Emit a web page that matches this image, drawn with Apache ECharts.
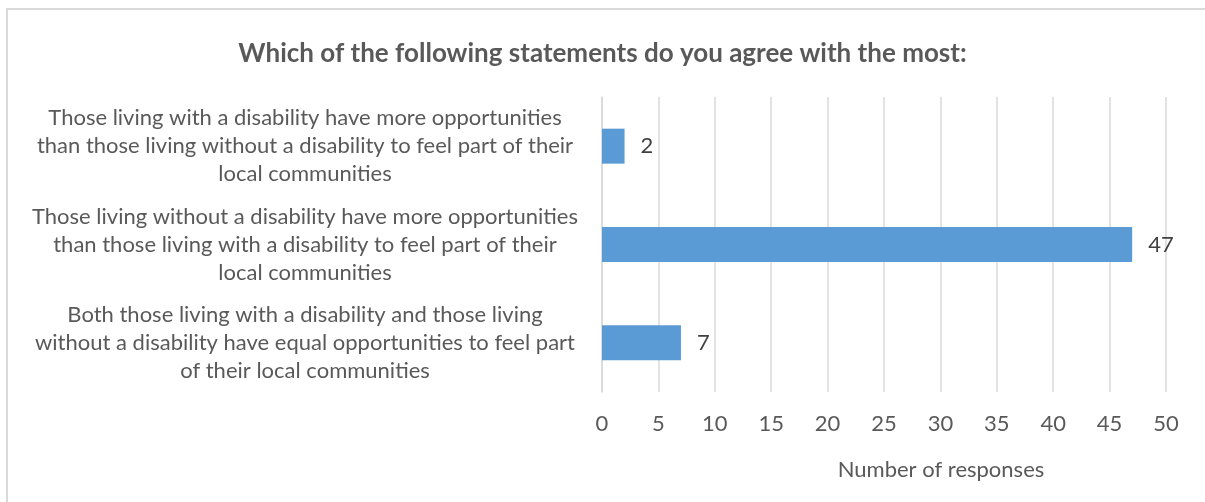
<!DOCTYPE html>
<html>
<head>
<meta charset="utf-8">
<script src="https://cdn.jsdelivr.net/npm/echarts@6/dist/echarts.min.js"></script>
<style>
  html, body { margin: 0; padding: 0; background: #fff; }
  #chart { width: 1205px; height: 502px; }
</style>
</head>
<body>
<div id="chart"></div>
<script>
// Survey answers, listed top to bottom as shown
const categories = [
  'Those living with a disability have more opportunities\nthan those living without a disability to feel part of their\nlocal communities',
  'Those living without a disability have more opportunities\nthan those living with a disability to feel part of their\nlocal communities',
  'Both those living with a disability and those living\nwithout a disability have equal opportunities to feel part\nof their local communities'
];
const responses = [2, 47, 7];
const xTicks = [0, 5, 10, 15, 20, 25, 30, 35, 40, 45, 50];

const titleText = 'Which of the following statements do you agree with the most:';
const axisTitle = 'Number of responses';

const FONT = 'Lato, "Open Sans", sans-serif';
const TEXT = '#595959';
const GRID = '#d9d9d9';

const chart = echarts.init(document.getElementById('chart'), null, { renderer: 'canvas' });

chart.setOption({
  animation: false,
  backgroundColor: '#fff',
  title: {
    text: titleText,
    left: 'center',
    top: 36,
    textStyle: { fontFamily: FONT, fontSize: 26, fontWeight: 'bold', color: TEXT }
  },
  grid: { left: 602, right: 39, top: 97, bottom: 110, containLabel: false },
  xAxis: {
    type: 'value',
    min: xTicks[0],
    max: xTicks[xTicks.length - 1],
    interval: 5,
    axisLine: { show: false },
    axisTick: { show: false },
    splitLine: { show: true, lineStyle: { color: GRID, width: 1.5 } },
    axisLabel: { fontFamily: FONT, fontSize: 22, color: TEXT, margin: 21 }
  },
  yAxis: {
    type: 'category',
    inverse: true,
    data: categories,
    axisLine: { show: true, lineStyle: { color: GRID, width: 1.5 } },
    axisTick: { show: false },
    axisLabel: {
      fontFamily: FONT,
      fontSize: 22,
      color: TEXT,
      lineHeight: 28,
      align: 'center',
      margin: 297
    }
  },
  graphic: [
    {
      type: 'rect',
      shape: { x: 7, y: 9, width: 1210, height: 510 },
      style: { fill: 'none', stroke: GRID, lineWidth: 2 },
      silent: true
    },
    {
      type: 'text',
      x: 941,
      y: 470,
      style: {
        text: axisTitle, fontFamily: FONT, fontSize: 22, fill: TEXT,
        align: 'center', verticalAlign: 'middle'
      }
    }
  ],
  series: [{
    type: 'bar',
    data: responses,
    barWidth: 35,
    itemStyle: { color: '#5b9bd5' },
    label: {
      show: true,
      position: 'right',
      distance: 16,
      fontFamily: FONT,
      fontSize: 22,
      color: '#404040'
    }
  }]
});
</script>
</body>
</html>
